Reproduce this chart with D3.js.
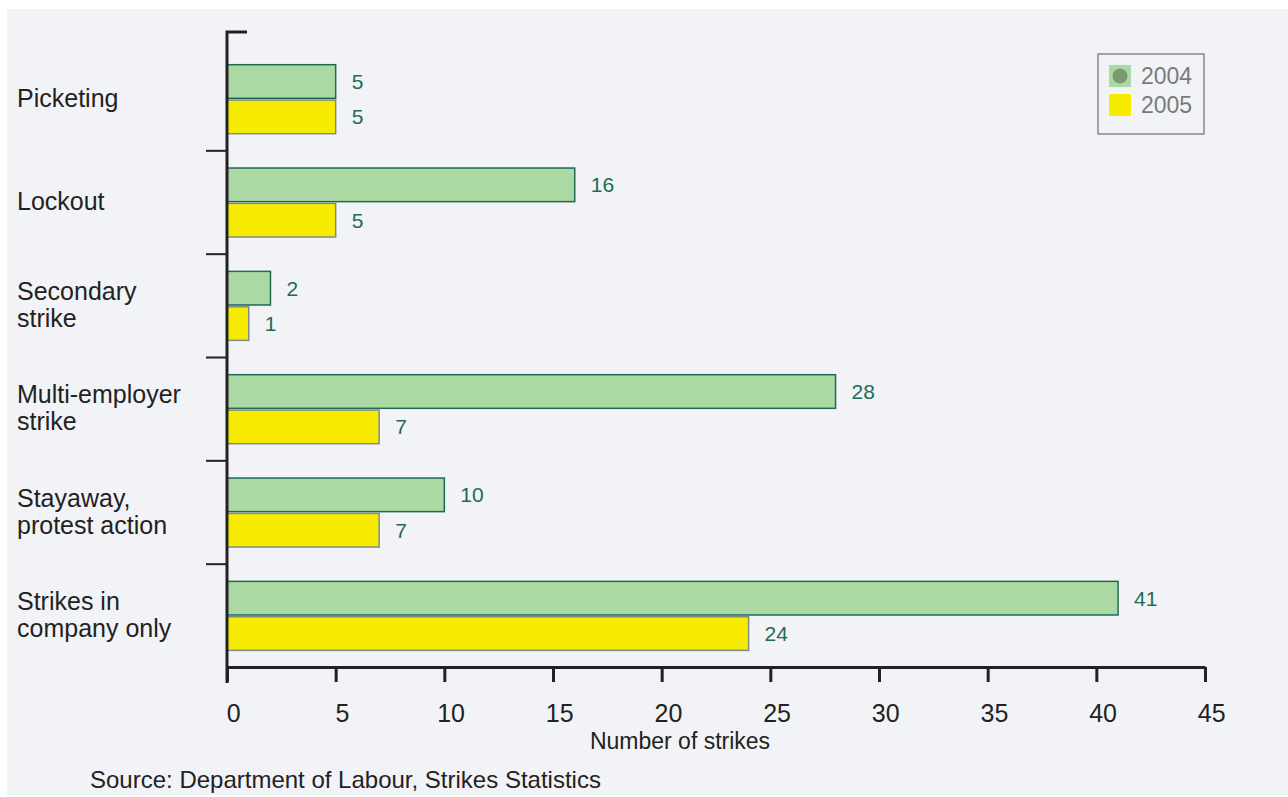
<!DOCTYPE html>
<html><head><meta charset="utf-8">
<script src="https://cdn.jsdelivr.net/npm/d3@7"></script>
<style>html,body{margin:0;padding:0;background:#fff;}svg{display:block;}</style>
</head><body>
<script>
const categories = ["Picketing","Lockout","Secondary strike","Multi-employer strike","Stayaway, protest action","Strikes in company only"];
const labelLines = [["Picketing"],["Lockout"],["Secondary","strike"],["Multi-employer","strike"],["Stayaway,","protest action"],["Strikes in","company only"]];
const series = ["2004","2005"];
const values2004 = [5,16,2,28,10,41];
const values2005 = [5,5,1,7,7,24];
const xTicks = [0,5,10,15,20,25,30,35,40,45];

const W = 1288, H = 797;
const svg = d3.select("body").append("svg").attr("width", W).attr("height", H);
const font = "'Liberation Sans', Arial, Helvetica, sans-serif";

svg.append("rect").attr("x", 7).attr("y", 9).attr("width", W - 7).attr("height", 786).attr("fill", "#f2f3f7");

const x = d3.scaleLinear().domain([0, 45]).range([227, 1205]);
const y0 = d3.scaleBand().domain(categories).range([47.5, 667.5]);
const y1 = d3.scaleBand().domain(series).range([17.2, 86.2]).paddingInner(0.05);

const colors = {"2004": {fill: "#acd8a3", stroke: "#1d6b55"}, "2005": {fill: "#f7ec00", stroke: "#7f8a8a"}};

const data = [];
categories.forEach((c, i) => {
  data.push({cat: c, s: "2004", v: values2004[i]});
  data.push({cat: c, s: "2005", v: values2005[i]});
});

const g = svg.append("g");
g.selectAll("rect.bar").data(data).enter().append("rect").attr("class", "bar")
  .attr("x", x(0))
  .attr("y", d => y0(d.cat) + y1(d.s))
  .attr("width", d => x(d.v) - x(0))
  .attr("height", y1.bandwidth())
  .attr("fill", d => colors[d.s].fill)
  .attr("stroke", d => colors[d.s].stroke)
  .attr("stroke-width", 1.5);

g.selectAll("text.val").data(data).enter().append("text").attr("class", "val")
  .attr("x", d => x(d.v) + 16)
  .attr("y", d => y0(d.cat) + y1(d.s) + y1.bandwidth() / 2)
  .attr("dy", "0.36em")
  .attr("font-family", font).attr("font-size", 21)
  .attr("fill", "#1d6b55")
  .text(d => d.v);

// Y axis line
svg.append("path").attr("d", `M${x(0)+20},32 H${x(0)} V683`).attr("fill", "none").attr("stroke", "#222").attr("stroke-width", 3);
// left ticks at band boundaries
categories.slice(1).forEach(c => {
  svg.append("line").attr("x1", 206).attr("x2", x(0)).attr("y1", y0(c)).attr("y2", y0(c))
    .attr("stroke", "#222").attr("stroke-width", 2);
});

// X axis
const xAxis = d3.axisBottom(x).tickValues(xTicks).tickSize(15).tickSizeOuter(0).tickPadding(22);
const ax = svg.append("g").attr("transform", "translate(0,667)").call(xAxis);
ax.select(".domain").attr("stroke", "#222").attr("stroke-width", 3);
ax.selectAll(".tick line").attr("stroke", "#222").attr("stroke-width", 3);
ax.selectAll(".tick text").attr("font-family", font).attr("font-size", 25).attr("fill", "#222").attr("dx", "0.25em");

// category labels
categories.forEach((c, i) => {
  const lines = labelLines[i];
  const cy = y0(c) + y0.bandwidth() / 2 - 1;
  const lh = 27;
  const t = svg.append("text").attr("font-family", font).attr("font-size", 25).attr("fill", "#222");
  lines.forEach((ln, j) => {
    t.append("tspan").attr("x", 17).attr("y", cy + (j - (lines.length - 1) / 2) * lh).attr("dy", "0.35em").text(ln);
  });
});

svg.append("text").attr("x", 680).attr("y", 741).attr("dy", "0.35em").attr("text-anchor", "middle")
  .attr("font-family", font).attr("font-size", 23).attr("fill", "#222").text("Number of strikes");

svg.append("text").attr("x", 90).attr("y", 780).attr("dy", "0.35em")
  .attr("font-family", font).attr("font-size", 24).attr("fill", "#222").text("Source: Department of Labour, Strikes Statistics");

// legend
const lg = svg.append("g");
lg.append("rect").attr("x", 1098).attr("y", 54).attr("width", 106).attr("height", 80).attr("fill", "none").attr("stroke", "#8a8a8a").attr("stroke-width", 1.5);
series.forEach((s, i) => {
  const yy = 65 + i * 29;
  lg.append("rect").attr("x", 1109).attr("y", yy).attr("width", 22).attr("height", 22).attr("fill", colors[s].fill);
  if (s === "2004") lg.append("circle").attr("cx", 1120).attr("cy", yy + 11).attr("r", 7.5).attr("fill", "#7a9a74");
  lg.append("text").attr("x", 1141).attr("y", yy + 11).attr("dy", "0.36em").attr("font-family", font).attr("font-size", 23).attr("fill", "#7a7a7a").text(s);
});
</script>
</body></html>
